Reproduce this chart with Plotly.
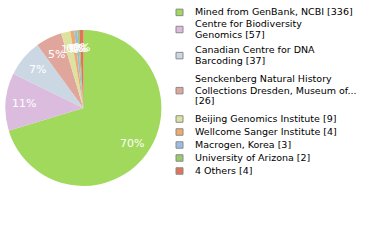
import math
import plotly.graph_objects as go

# ---- data ----
names = [
    "Mined from GenBank, NCBI",
    "Centre for Biodiversity Genomics",
    "Canadian Centre for DNA Barcoding",
    "Senckenberg Natural History Collections Dresden, Museum of...",
    "Beijing Genomics Institute",
    "Wellcome Sanger Institute",
    "Macrogen, Korea",
    "University of Arizona",
    "4 Others",
]
values = [336, 57, 37, 26, 9, 4, 3, 2, 4]
# legend text as wrapped in the reference
legend_lines = [
    ["Mined from GenBank, NCBI [336]"],
    ["Centre for Biodiversity", "Genomics [57]"],
    ["Canadian Centre for DNA", "Barcoding [37]"],
    ["Senckenberg Natural History", "Collections Dresden, Museum of...", "[26]"],
    ["Beijing Genomics Institute [9]"],
    ["Wellcome Sanger Institute [4]"],
    ["Macrogen, Korea [3]"],
    ["University of Arizona [2]"],
    ["4 Others [4]"],
]
colors = ["#a0d95b", "#dcbcde", "#cbd8e4", "#e0a69c", "#dde2a0",
          "#efab6e", "#9bbde1", "#9cc96d", "#e1735b"]

# ---- layout settings (pixels) ----
W, H = 380, 240
DOM_X = [0.013, 0.426]
DOM_Y = [0.225, 0.875]
LABEL_R = 0.77          # label radius as fraction of pie radius
LEG_MARK_X = (176, 183)
LEG_TEXT_X = 193
LEG_MARK_SIZE = 6.5
# y (from top, px) of each legend text line, per item
legend_line_y = [
    [11.7],
    [23.3, 34.3],
    [49.3, 60.5],
    [79.0, 90.0, 100.8],
    [118.3], [131.3], [144.3], [157.3], [170.3],
]

total = sum(values)
pct_text = [f"{math.floor(v * 100 / total)}%" for v in values]

fig = go.Figure(go.Pie(
    labels=names,
    values=values,
    textinfo="none",
    sort=False,
    direction="clockwise",
    rotation=0,
    marker=dict(colors=colors, line=dict(width=0)),
    domain=dict(x=DOM_X, y=DOM_Y),
    hoverinfo="label+value",
    showlegend=False,
))

# pie geometry derived from domain
px_w = (DOM_X[1] - DOM_X[0]) * W
px_h = (DOM_Y[1] - DOM_Y[0]) * H
R = min(px_w, px_h) / 2
cx = (DOM_X[0] + DOM_X[1]) / 2 * W
cy = (1 - (DOM_Y[0] + DOM_Y[1]) / 2) * H

annotations = []
shapes = []
cum = 0.0
for v, t in zip(values, pct_text):
    mid = (cum + v / 2) / total
    cum += v
    th = 2 * math.pi * mid
    x = cx + LABEL_R * R * math.sin(th)
    y = cy - LABEL_R * R * math.cos(th)
    annotations.append(dict(
        x=x / W, y=1 - y / H, xref="paper", yref="paper",
        text=t, showarrow=False, xanchor="center", yanchor="middle",
        font=dict(family="DejaVu Sans", size=11, color="white"),
    ))

for lines, ys, col in zip(legend_lines, legend_line_y, colors):
    for line, y in zip(lines, ys):
        annotations.append(dict(
            x=LEG_TEXT_X / W, y=1 - y / H, xref="paper", yref="paper",
            text=line, showarrow=False, xanchor="left", yanchor="middle",
            font=dict(family="DejaVu Sans", size=9.5, color="#000000"),
        ))
    ym = sum(ys) / len(ys) + 0.7
    shapes.append(dict(
        type="rect", xref="paper", yref="paper",
        x0=LEG_MARK_X[0] / W, x1=LEG_MARK_X[1] / W,
        y0=1 - (ym + LEG_MARK_SIZE / 2) / H, y1=1 - (ym - LEG_MARK_SIZE / 2) / H,
        fillcolor=col, line=dict(color="#8a8a8a", width=1),
    ))

fig.update_layout(
    width=W, height=H,
    margin=dict(l=0, r=0, t=0, b=0),
    paper_bgcolor="white",
    plot_bgcolor="white",
    showlegend=False,
    annotations=annotations,
    shapes=shapes,
)

fig.write_html("out.html")
